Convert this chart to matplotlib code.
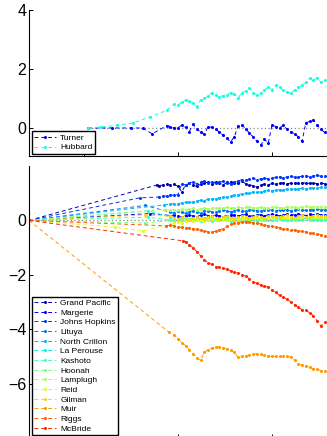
import numpy as np
import matplotlib
matplotlib.use('Agg')
import matplotlib.pyplot as plt
from matplotlib import colormaps

plt.rcParams['font.family'] = ['Liberation Sans', 'DejaVu Sans']

# ---------------- data ----------------
t_left = 2002.83
t_right = 2009.17
dense_t = np.round(np.arange(2005.6, 2009.15, 0.08), 3)  # regular sampling dates

# top panel
turner_sparse_t = [2004.09, 2004.6, 2005.0, 2005.25, 2005.45]
turner_sparse_v = [0.0, 0.0, 0.0, 0.0, -0.2]
turner_dense = [0.08, 0.05, 0.0, 0.0, 0.1, 0.02, -0.12, 0.12, -0.05, -0.13, -0.22, 0.05,
                0.02, -0.02, -0.15, -0.24, -0.35, -0.47, -0.3, 0.08, 0.1, -0.02, -0.18, -0.3,
                -0.45, -0.58, -0.38, -0.52, 0.1, 0.05, 0.0, 0.1, -0.05, -0.12, -0.2, -0.3,
                -0.45, 0.18, 0.22, 0.27, 0.1, -0.05, -0.15]

hubbard_sparse_t = [2004.09, 2004.34, 2004.7, 2005.04, 2005.4, 2005.77]
hubbard_sparse_v = [0.0, 0.03, 0.09, 0.17, 0.37, 0.6]
hubbard_dense = [0.82, 0.78, 0.88, 0.95, 0.9, 0.85, 0.72, 0.95, 1.0, 1.08, 1.2, 1.12,
                 1.05, 1.1, 1.12, 1.2, 1.15, 1.02, 1.2, 1.25, 1.35, 1.2, 1.12, 1.18,
                 1.3, 1.38, 1.3, 1.45, 1.38, 1.28, 1.22, 1.18, 1.3, 1.38, 1.45, 1.55,
                 1.68, 1.62, 1.7, 1.55, 1.62]

top_names = ['Turner', 'Hubbard']

# bottom panel
glaciers = ['Grand Pacific', 'Margerie', 'Johns Hopkins', 'Lituya', 'North Crillon',
            'La Perouse', 'Kashoto', 'Hoonah', 'Lamplugh', 'Reid', 'Gilman', 'Muir',
            'Riggs', 'McBride']

gp_sparse_t = [t_left, 2005.55]
gp_sparse_v = [0.0, 1.3]
gp_dense = [1.28, 1.3, 1.32, 1.3, 1.33, 1.25, 1.05, 1.3, 1.36, 1.3, 1.25, 1.33, 1.38, 1.4,
            1.35, 1.42, 1.38, 1.3, 1.4, 1.42, 1.36, 1.38, 1.44, 1.35, 1.3, 1.28, 1.22, 1.3,
            1.34, 1.3, 1.36, 1.33, 1.36, 1.38, 1.35, 1.37, 1.38, 1.36, 1.39, 1.37, 1.36,
            1.38, 1.35, 1.37, 1.35]

margerie_sparse_t = [t_left, 2005.40]
margerie_sparse_v = [0.0, 0.25]
margerie_dense = [0.18, 0.2, 0.15, 0.12, 0.18, 0.2, 0.16, 0.14, 0.19, 0.22, 0.18, 0.15, 0.2,
                  0.17, 0.14, 0.18, 0.21, 0.19, 0.16, 0.2, 0.22, 0.18, 0.15, 0.19, 0.21, 0.17,
                  0.2, 0.23, 0.19, 0.17, 0.2, 0.22, 0.19, 0.21, 0.24, 0.2, 0.18, 0.22, 0.2,
                  0.23, 0.21, 0.2]

jh_sparse_t = [t_left, 2005.19]
jh_sparse_v = [0.0, 0.83]
jh_dense = [0.86, 0.88, 0.9, 0.93, 0.94, 0.95, 1.35, 1.3, 1.38, 1.42, 1.35, 1.4, 1.45, 1.38,
            1.42, 1.36, 1.4, 1.44, 1.38, 1.35, 1.42, 1.45, 1.5, 1.48, 1.52, 1.55, 1.5, 1.53,
            1.56, 1.52, 1.55, 1.58, 1.6, 1.56, 1.6, 1.63, 1.58, 1.6, 1.62, 1.65, 1.6, 1.63,
            1.66, 1.62, 1.64]

lituya_sparse_t = [t_left, 2005.30]
lituya_sparse_v = [0.0, 0.55]
lituya_dense = [0.3, 0.28, 0.33, 0.3, 0.26, 0.32, 0.35, 0.3, 0.28, 0.34, 0.36, 0.32, 0.3,
                0.35, 0.38, 0.34, 0.32, 0.36, 0.38, 0.35, 0.33, 0.37, 0.39, 0.36, 0.34, 0.38,
                0.4, 0.37, 0.35, 0.38, 0.4, 0.38, 0.36, 0.39, 0.41, 0.38, 0.37, 0.4, 0.39,
                0.41, 0.4, 0.39]

nc_sparse_t = [t_left, 2005.70]
nc_sparse_v = [0.0, 0.57]
nc_dense = [0.6, 0.62, 0.61, 0.65, 0.66, 0.68, 0.67, 0.72, 0.74, 0.73, 0.78, 0.8, 0.79, 0.84,
            0.86, 0.85, 0.9, 0.93, 0.95, 0.98, 1.0, 0.99, 1.04, 1.05, 1.04, 1.08, 1.1, 1.09,
            1.12, 1.13, 1.12, 1.15, 1.16, 1.15, 1.17, 1.18, 1.17, 1.19, 1.2, 1.19, 1.21, 1.22]

lp_sparse_t = [t_left, 2005.36]
lp_sparse_v = [0.0, 0.35]
lp_dense = [0.12, 0.08, 0.05, 0.1, 0.07, 0.04, 0.09, 0.06, 0.03, 0.08, 0.1, 0.06, 0.04, 0.08,
            0.05, 0.02, 0.07, 0.09, 0.05, 0.03, 0.06, 0.08, 0.05, 0.02, 0.06, 0.09, 0.06, 0.03,
            0.05, 0.08, 0.06, 0.04, 0.07, 0.09, 0.06, 0.05, 0.08, 0.06, 0.04, 0.07, 0.05, 0.06]

kashoto_sparse_t = [t_left, 2005.36]
kashoto_sparse_v = [0.0, 0.12]
kashoto_dense = [0.02, -0.02, 0.0, 0.03, -0.01, 0.01, 0.04, 0.0, -0.02, 0.02, 0.03, -0.01,
                 0.0, 0.02, 0.04, 0.01, -0.01, 0.02, 0.03, 0.0, 0.01, 0.03, 0.02, -0.01, 0.01,
                 0.03, 0.02, 0.0, 0.02, 0.04, 0.01, 0.0, 0.02, 0.03, 0.01, 0.02, 0.04, 0.02,
                 0.01, 0.03, 0.02, 0.01]

hoonah_sparse_t = [t_left, 2005.30]
hoonah_sparse_v = [0.0, -0.1]
hoonah_dense = [0.0, 0.03, 0.05, 0.02, 0.06, 0.04, 0.01, 0.05, 0.07, 0.03, 0.05, 0.08, 0.04,
                0.02, 0.06, 0.08, 0.05, 0.03, 0.07, 0.09, 0.06, 0.04, 0.07, 0.09, 0.06, 0.05,
                0.08, 0.1, 0.07, 0.05, 0.08, 0.1, 0.07, 0.06, 0.09, 0.11, 0.08, 0.06, 0.09,
                0.1, 0.08, 0.09]

lamplugh_sparse_t = [t_left, 2005.72]
lamplugh_sparse_v = [0.0, 0.4]
lamplugh_dense = [0.38, 0.4, 0.37, 0.42, 0.39, 0.41, 0.44, 0.4, 0.43, 0.46, 0.42, 0.45, 0.47,
                  0.44, 0.46, 0.48, 0.45, 0.47, 0.49, 0.46, 0.48, 0.5, 0.47, 0.46, 0.49, 0.47,
                  0.45, 0.48, 0.5, 0.47, 0.46, 0.49, 0.51, 0.48, 0.47, 0.5, 0.52, 0.49, 0.48,
                  0.51, 0.5, 0.49]

reid_sparse_t = [t_left, 2004.66, 2005.26]
reid_sparse_v = [0.0, -0.25, -0.38]
reid_dense = [-0.15, -0.1, -0.05, -0.08, -0.02, 0.0, -0.04, 0.02, 0.0, -0.03, 0.03, 0.05,
              0.01, 0.04, 0.06, 0.02, 0.05, 0.07, 0.04, 0.06, 0.08, 0.05, 0.07, 0.09, 0.06,
              0.08, 0.1, 0.07, 0.09, 0.11, 0.08, 0.1, 0.12, 0.09, 0.11, 0.13, 0.1, 0.12, 0.14,
              0.11, 0.13, 0.12]

gilman_sparse_t = [t_left, 2005.30]
gilman_sparse_v = [0.0, 0.2]
gilman_dense = [0.15, 0.1, 0.05, 0.12, 0.08, 0.03, 0.1, 0.14, 0.07, 0.04, 0.11, 0.15, 0.08,
                0.05, 0.12, 0.16, 0.1, 0.06, 0.13, 0.17, 0.11, 0.07, 0.14, 0.18, 0.12, 0.08,
                0.15, 0.18, 0.12, 0.09, 0.15, 0.19, 0.13, 0.1, 0.16, 0.2, 0.14, 0.11, 0.17,
                0.2, 0.15, 0.16]

muir_sparse_t = [t_left, 2005.80]
muir_sparse_v = [0.0, -4.1]
muir_dense = [-4.2, -4.35, -4.5, -4.6, -4.75, -4.9, -5.05, -5.15, -4.85, -4.75, -4.68, -4.66,
              -4.65, -4.68, -4.72, -4.78, -4.85, -5.04, -5.0, -4.98, -4.95, -4.93, -4.9,
              -4.92, -4.96, -4.98, -5.0, -5.0, -5.0, -5.0, -5.0, -5.02, -5.15, -5.28, -5.32,
              -5.35, -5.4, -5.45, -5.48, -5.52, -5.54]

riggs_sparse_t = [t_left, 2005.75]
riggs_sparse_v = [0.0, -0.2]
riggs_dense = [-0.18, -0.2, -0.24, -0.26, -0.27, -0.28, -0.3, -0.33, -0.36, -0.38, -0.41,
               -0.43, -0.4, -0.35, -0.3, -0.22, -0.15, -0.1, -0.08, -0.06, -0.05, -0.07,
               -0.08, -0.1, -0.13, -0.16, -0.2, -0.22, -0.25, -0.27, -0.3, -0.33, -0.35,
               -0.36, -0.38, -0.4, -0.42, -0.45, -0.48, -0.5, -0.53, -0.56]

mcbride_sparse_t = [t_left, 2006.10]
mcbride_sparse_v = [0.0, -0.75]
mcbride_dense = [-0.78, -0.9, -1.0, -1.15, -1.3, -1.45, -1.55, -1.62, -1.7, -1.72, -1.75,
                 -1.8, -1.85, -1.9, -1.95, -2.0, -2.05, -2.15, -2.28, -2.3, -2.38, -2.42,
                 -2.45, -2.55, -2.65, -2.75, -2.82, -2.9, -3.0, -3.1, -3.2, -3.28, -3.3, -3.4,
                 -3.5, -3.7, -3.88, -3.75]

bottom_data = [
    (gp_sparse_t, gp_sparse_v, gp_dense),
    (margerie_sparse_t, margerie_sparse_v, margerie_dense),
    (jh_sparse_t, jh_sparse_v, jh_dense),
    (lituya_sparse_t, lituya_sparse_v, lituya_dense),
    (nc_sparse_t, nc_sparse_v, nc_dense),
    (lp_sparse_t, lp_sparse_v, lp_dense),
    (kashoto_sparse_t, kashoto_sparse_v, kashoto_dense),
    (hoonah_sparse_t, hoonah_sparse_v, hoonah_dense),
    (lamplugh_sparse_t, lamplugh_sparse_v, lamplugh_dense),
    (reid_sparse_t, reid_sparse_v, reid_dense),
    (gilman_sparse_t, gilman_sparse_v, gilman_dense),
    (muir_sparse_t, muir_sparse_v, muir_dense),
    (riggs_sparse_t, riggs_sparse_v, riggs_dense),
    (mcbride_sparse_t, mcbride_sparse_v, mcbride_dense),
]


def build(st, sv, dense):
    dt = dense_t[len(dense_t) - len(dense):]
    keep = [i for i, t in enumerate(st) if t < dt[0]]
    t = np.concatenate([np.array(st)[keep], dt])
    v = np.concatenate([np.array(sv)[keep], np.array(dense)])
    return t, v


# ---------------- figure ----------------
W, H = 327, 436
fig = plt.figure(figsize=(W / 100, H / 100), dpi=100)

def px_axes(x0, y0, x1, y1):
    return fig.add_axes([x0 / W, 1 - y1 / H, (x1 - x0) / W, (y1 - y0) / H])

ax1 = px_axes(29, 10, 327, 156)
ax2 = px_axes(29, 166, 327, 438)

line_kw = dict(lw=0.7, linestyle=(0, (4, 3)), marker='.', markersize=2.4)
jet = colormaps['jet']

# top
tt, tv = build(turner_sparse_t, turner_sparse_v, turner_dense)
ht, hv = build(hubbard_sparse_t, hubbard_sparse_v, hubbard_dense)
ax1.plot([tt[0], t_right], [0, 0], color='0.55', lw=0.9, linestyle=(0, (1, 2)))
h1, = ax1.plot(tt, tv, color=jet(0.11), label=top_names[0], **line_kw)
h2, = ax1.plot(ht, hv, color=jet(0.375), label=top_names[1], **line_kw)

# bottom
ax2.plot([t_left, t_right], [0, 0], color='0.55', lw=0.9, linestyle=(0, (1, 2)))
cvals = np.linspace(0.05, 0.87, len(glaciers))
handles = []
for name, (st, sv, dense), c in zip(glaciers, bottom_data, cvals):
    t, v = build(st, sv, dense)
    h, = ax2.plot(t, v, color=jet(c), label=name, **line_kw)
    handles.append(h)

for ax in (ax1, ax2):
    ax.set_xlim(t_left, t_right)
    ax.set_xticks([2004, 2006, 2008])
    ax.set_xticklabels([])
    ax.spines['top'].set_visible(False)
    ax.spines['right'].set_visible(False)
    for s in ('left', 'bottom'):
        ax.spines[s].set_linewidth(0.8)
    ax.tick_params(direction='in', length=3, width=0.7, labelsize=11.5, pad=2,
                   top=False, right=False)

ax1.set_ylim(-0.95, 4)
ax1.set_yticks([0, 2, 4])
ax2.set_ylim(-8, 2)
ax2.set_yticks([-6, -4, -2, 0])

leg_kw = dict(fontsize=6, frameon=True, fancybox=False, framealpha=1, edgecolor='black',
              handlelength=2.6, handletextpad=0.5, borderpad=0.3, labelspacing=0.22,
              borderaxespad=0, numpoints=1)
l1 = ax1.legend(handles=[h1, h2], loc='lower left', bbox_to_anchor=(0.009, 0.014), **leg_kw)
l1.get_frame().set_linewidth(1.0)
l2 = ax2.legend(handles=handles, loc='lower left', bbox_to_anchor=(0.01, 0.011), **leg_kw)
l2.get_frame().set_linewidth(1.0)

fig.savefig('out.png', dpi=100)
